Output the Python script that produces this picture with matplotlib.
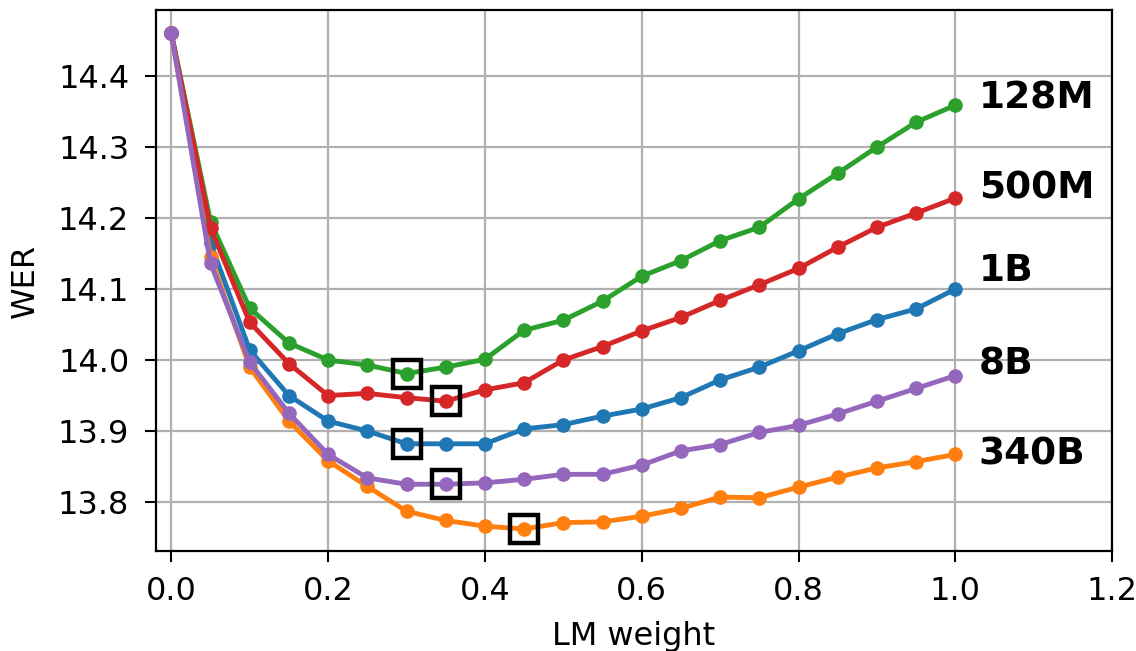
import numpy as np
import matplotlib
matplotlib.use("Agg")
import matplotlib.pyplot as plt

# LM weight sweep
lm_weight = np.round(np.arange(0, 1.0001, 0.05), 2)

# WER per LM size
wer_1b = [14.46, 14.165, 14.014, 13.950, 13.914, 13.900, 13.882, 13.882, 13.882, 13.903, 13.909,
          13.921, 13.931, 13.947, 13.972, 13.990, 14.013, 14.037, 14.057, 14.072, 14.100]
wer_340b = [14.46, 14.145, 13.990, 13.914, 13.858, 13.822, 13.787, 13.774, 13.766, 13.762, 13.771,
            13.772, 13.780, 13.791, 13.807, 13.806, 13.821, 13.835, 13.848, 13.857, 13.867]
wer_128m = [14.46, 14.195, 14.073, 14.024, 14.000, 13.993, 13.981, 13.990, 14.001, 14.042, 14.056,
            14.083, 14.118, 14.140, 14.168, 14.187, 14.227, 14.263, 14.300, 14.335, 14.359]
wer_500m = [14.46, 14.186, 14.053, 13.995, 13.950, 13.953, 13.947, 13.942, 13.958, 13.968, 14.000,
            14.019, 14.041, 14.060, 14.084, 14.106, 14.129, 14.159, 14.187, 14.207, 14.228]
wer_8b = [14.46, 14.136, 13.997, 13.925, 13.867, 13.834, 13.825, 13.825, 13.827, 13.832, 13.839,
          13.839, 13.852, 13.872, 13.881, 13.898, 13.908, 13.924, 13.942, 13.960, 13.978]

labels = ["1B", "340B", "128M", "500M", "8B"]
series = [wer_1b, wer_340b, wer_128m, wer_500m, wer_8b]
colors = ["C0", "C1", "C2", "C3", "C4"]

# best LM weight per model (boxed points)
best_weight = [0.30, 0.45, 0.30, 0.35, 0.35]

fig = plt.figure(figsize=(11.36, 6.51), dpi=100)
ax = fig.add_axes([0.137, 0.1536, 0.842, 0.831])

for lab, wer, c, bw in zip(labels, series, colors, best_weight):
    ax.plot(lm_weight, wer, color=c, lw=3.5, marker='o', ms=9.5)
    i = int(round(bw / 0.05))
    ax.plot(lm_weight[i], wer[i], marker='s', ms=20, mfc='none', mec='k', mew=3.2, zorder=5)

# size labels at the right end of each curve (nudged to avoid overlap)
label_dy = {"1B": 0.025, "340B": 0.0, "128M": 0.01, "500M": 0.014, "8B": 0.015}
for lab, wer in zip(labels, series):
    ax.text(1.03, wer[-1] + label_dy[lab], lab, fontsize=27, fontweight='bold',
            va='center', ha='left')

ax.set_xlim(-0.02, 1.2)
ax.set_ylim(13.731, 14.493)
ax.set_xticks(np.arange(0, 1.21, 0.2))
ax.set_yticks(np.arange(13.8, 14.41, 0.1))
ax.grid(True, color='#b0b0b0', lw=1.6)
ax.set_axisbelow(True)
ax.tick_params(labelsize=23, length=8, width=1.5)
ax.tick_params(axis='x', pad=10)
ax.tick_params(axis='y', pad=11)
for s in ax.spines.values():
    s.set_linewidth(1.6)
ax.set_xlabel("LM weight", fontsize=23, labelpad=10)
ax.set_ylabel("WER", fontsize=23, labelpad=12)

fig.savefig("out.png", dpi=100)
